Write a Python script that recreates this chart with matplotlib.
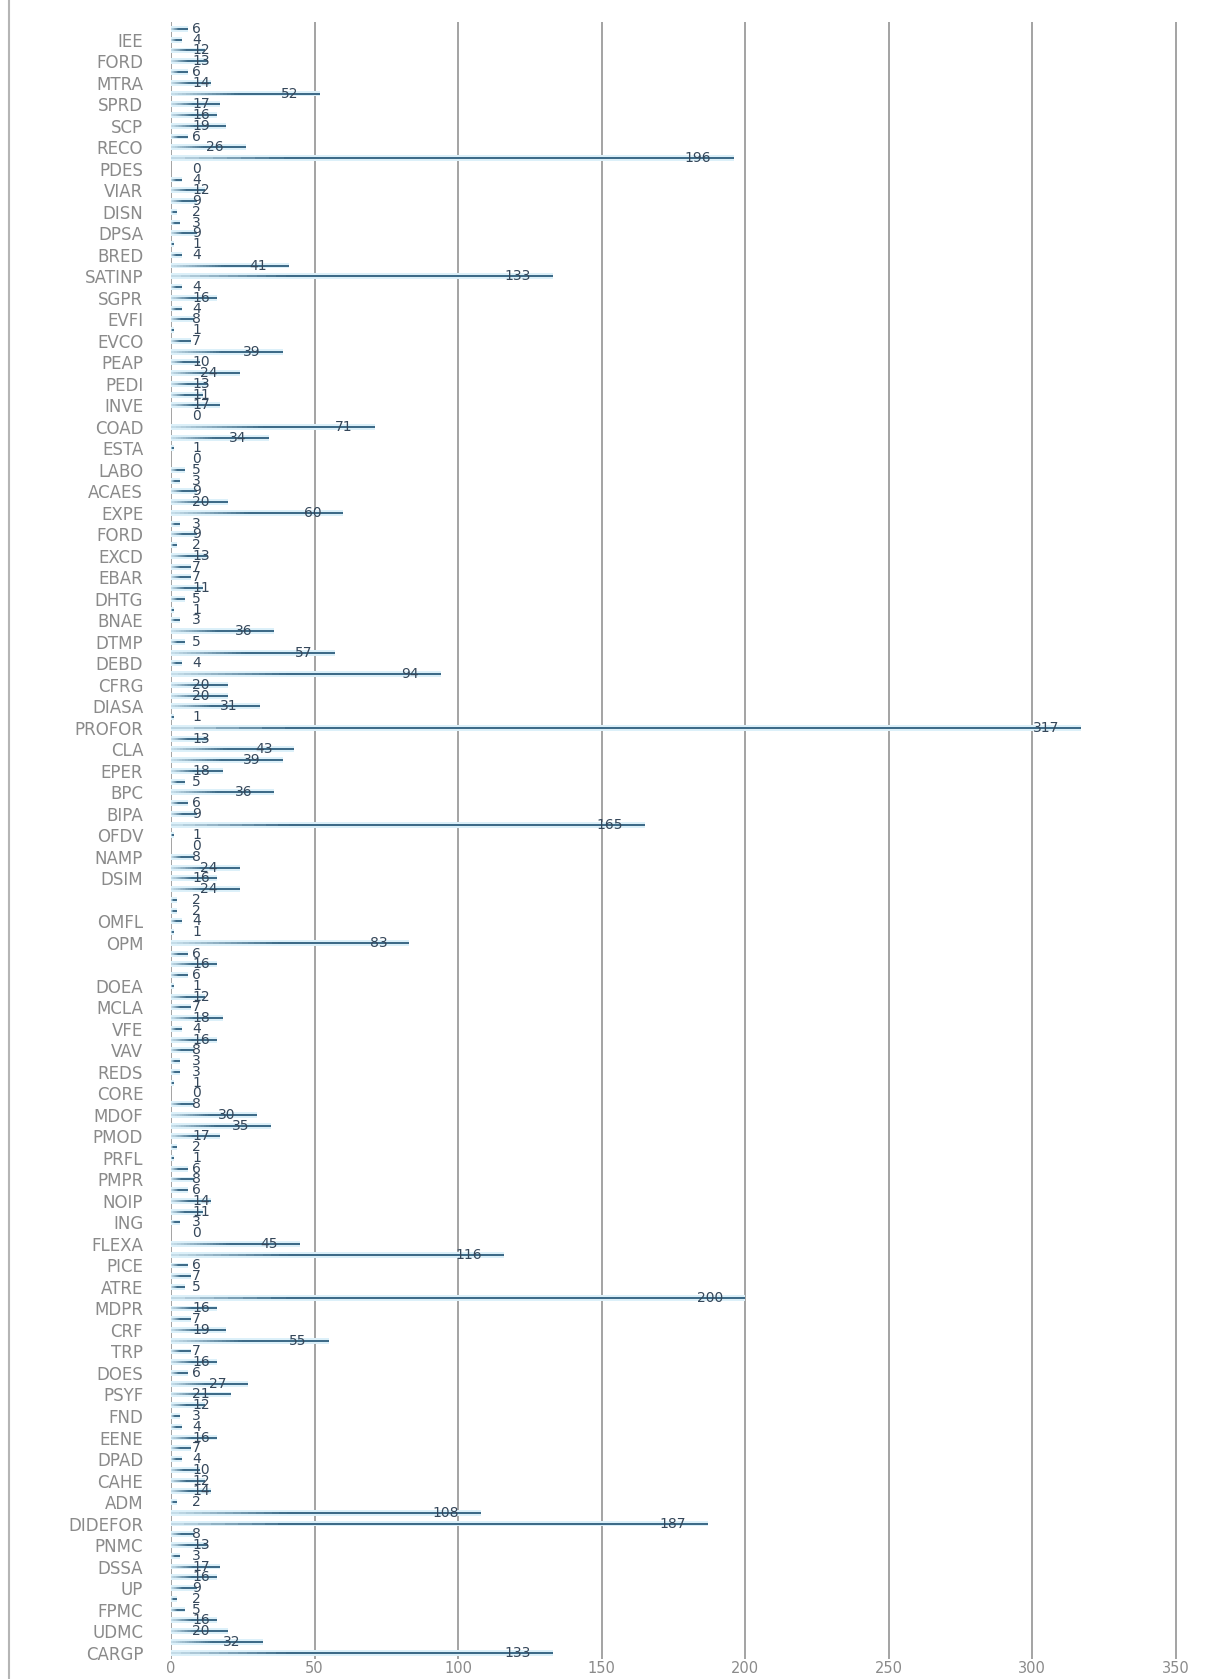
import numpy as np
import matplotlib
matplotlib.use("Agg")
import matplotlib.pyplot as plt
from matplotlib.collections import LineCollection
from matplotlib.colors import to_rgb
from matplotlib.lines import Line2D

# Labelled categories (every second row carries a name; '' = unnamed)
tick_labels = [
    "IEE", "FORD", "MTRA", "SPRD", "SCP", "RECO", "PDES", "VIAR", "DISN", "DPSA",
    "BRED", "SATINP", "SGPR", "EVFI", "EVCO", "PEAP", "PEDI", "INVE", "COAD", "ESTA",
    "LABO", "ACAES", "EXPE", "FORD", "EXCD", "EBAR", "DHTG", "BNAE", "DTMP", "DEBD",
    "CFRG", "DIASA", "PROFOR", "CLA", "EPER", "BPC", "BIPA", "OFDV", "NAMP", "DSIM",
    "", "OMFL", "OPM", "", "DOEA", "MCLA", "VFE", "VAV", "REDS", "CORE",
    "MDOF", "PMOD", "PRFL", "PMPR", "NOIP", "ING", "FLEXA", "PICE", "ATRE", "MDPR",
    "CRF", "TRP", "DOES", "PSYF", "FND", "EENE", "DPAD", "CAHE", "ADM", "DIDEFOR",
    "PNMC", "DSSA", "UP", "FPMC", "UDMC", "CARGP",
]

# One value per row, top to bottom
values = [
    6, 4, 12, 13, 6, 14, 52, 17, 16, 19,
    6, 26, 196, 0, 4, 12, 9, 2, 3, 9,
    1, 4, 41, 133, 4, 16, 4, 8, 1, 7,
    39, 10, 24, 13, 11, 17, 0, 71, 34, 1,
    0, 5, 3, 9, 20, 60, 3, 9, 2, 13,
    7, 7, 11, 5, 1, 3, 36, 5, 57, 4,
    94, 20, 20, 31, 1, 317, 13, 43, 39, 18,
    5, 36, 6, 9, 165, 1, 0, 8, 24, 16,
    24, 2, 2, 4, 1, 83, 6, 16, 6, 1,
    12, 7, 18, 4, 16, 8, 3, 3, 1, 0,
    8, 30, 35, 17, 2, 1, 6, 8, 6, 14,
    11, 3, 0, 45, 116, 6, 7, 5, 200, 16,
    7, 19, 55, 7, 16, 6, 27, 21, 12, 3,
    4, 16, 7, 4, 10, 12, 14, 2, 108, 187,
    8, 13, 3, 17, 16, 9, 2, 5, 16, 20,
    32, 133,
]

x_ticks = [0, 50, 100, 150, 200, 250, 300, 350]

W, H = 1218, 1679
fig = plt.figure(figsize=(W / 100, H / 100), dpi=100)
fig.patch.set_facecolor("white")

ax_left, ax_right = 171, 1210
ax_top, ax_bottom = 22, 1659
ax = fig.add_axes([ax_left / W, 1 - ax_bottom / H,
                   (ax_right - ax_left) / W, (ax_bottom - ax_top) / H])

n_rows = len(values)
rows = np.arange(n_rows)
x_max = 362
ax.set_xlim(0, x_max)
ax.set_ylim(n_rows - 1 + 0.6, -0.65)

# vertical grid
ax.set_axisbelow(True)
ax.set_xticks(x_ticks)
ax.xaxis.grid(True, color="#a3a3a3", linewidth=1.4)
for s in ax.spines.values():
    s.set_visible(False)

# pale halo under each bar
ax.barh(rows, values, height=0.55, color="#dcf0f9", linewidth=0, zorder=2)

# dark line that strengthens along its length
dark = to_rgb("#2d5d7c")
segs, cols = [], []
for r, v in zip(rows, values):
    if v <= 0:
        continue
    ramp = min(0.45 * v, 40.0)
    xs = np.linspace(0, v, 41)
    mids = 0.5 * (xs[:-1] + xs[1:])
    alpha = np.clip(0.12 + 0.88 * mids / ramp, 0, 1)
    for i in range(len(mids)):
        segs.append([(xs[i], r), (xs[i + 1], r)])
        cols.append((*dark, alpha[i]))
ax.add_collection(LineCollection(segs, colors=cols, linewidths=1.3,
                                 capstyle="butt", zorder=3))

# y tick labels on every second row
label_rows = rows[1::2]
ax.set_yticks(label_rows)
ax.set_yticklabels(tick_labels)
ax.tick_params(axis="y", length=0, pad=20, labelsize=12, labelcolor="#8a8a8a")
ax.tick_params(axis="x", length=0, pad=1.5, labelsize=10.5, labelcolor="#8a8a8a")

# value labels: inside near the bar end when there is room, otherwise just right of the axis
ppu = (ax_right - ax_left) / x_max
gap_end = 22 / ppu
min_left = 21 / ppu
fig.canvas.draw()
renderer = fig.canvas.get_renderer()
for r, v in zip(rows, values):
    t = ax.text(min_left, r, str(v), ha="left", va="center",
                fontsize=10, color="#35475a", zorder=4)
    w = t.get_window_extent(renderer).width / ppu
    if v - gap_end - w >= min_left:
        t.set_x(v - gap_end)
        t.set_ha("right")

# thin frame line on the left of the figure
fig.add_artist(Line2D([9 / W, 9 / W], [0, 1], color="#b5b5b5", linewidth=1.5))

fig.savefig("out.png", dpi=100, facecolor="white")
